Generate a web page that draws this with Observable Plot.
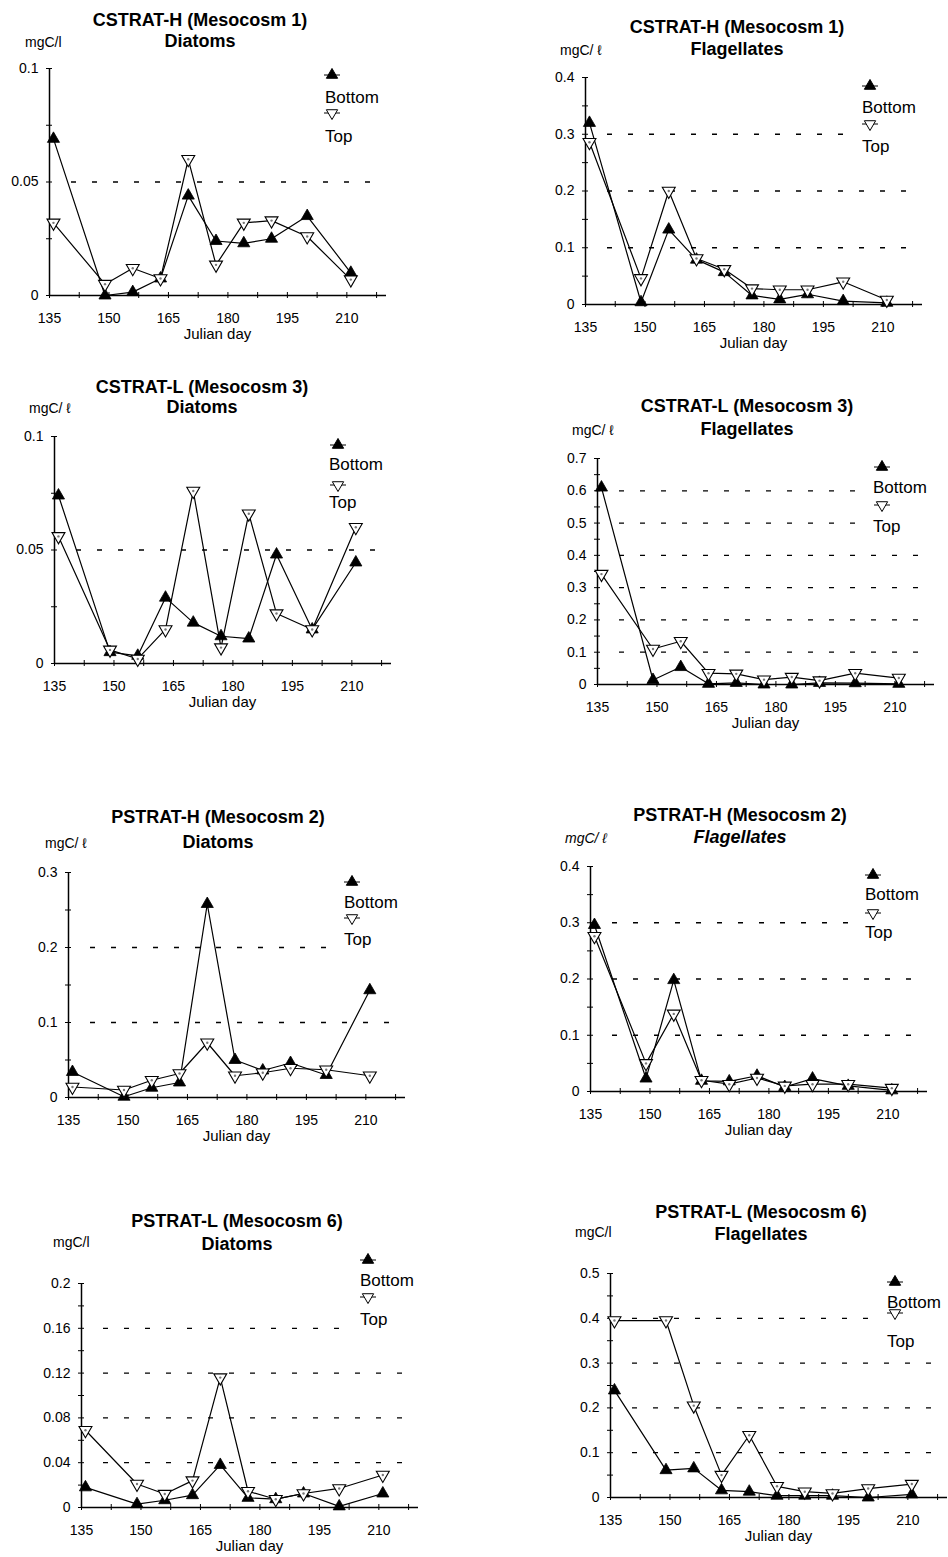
<!DOCTYPE html>
<html>
<head>
<meta charset="utf-8">
<script src="https://cdn.jsdelivr.net/npm/d3@7"></script>
<script src="https://cdn.jsdelivr.net/npm/@observablehq/plot@0.6"></script>
<style>
  body { margin: 0; background: #fff; }
  #page { position: relative; width: 948px; height: 1557px; overflow: hidden; background: #fff; }
  #page svg { position: absolute; left: 0; top: 0; }
</style>
</head>
<body>
<div id="page"></div>
<script>
// Sampling dates (Julian day), shared by every mesocosm
const days = [136, 149, 156, 163, 170, 177, 184, 191, 200, 211];

// x-axis labels and minor tick positions
const xLabels = [135, 150, 165, 180, 195, 210];
const xTicks = [135, 142.5, 150, 157.5, 165, 172.5, 180, 187.5, 195, 202.5, 210, 217.5];

// Carbon biomass, mgC/l — bottom and top layers
const cstratH_diatoms_bottom = [0.069, 0.0, 0.0015, 0.0075, 0.044, 0.024, 0.023, 0.025, 0.035, 0.010];
const cstratH_diatoms_top    = [0.032, 0.005, 0.012, 0.0075, 0.060, 0.0135, 0.032, 0.033, 0.026, 0.007];
const cstratH_flag_bottom    = [0.32, 0.004, 0.132, 0.079, 0.057, 0.016, 0.009, 0.018, 0.006, 0.003];
const cstratH_flag_top       = [0.286, 0.046, 0.20, 0.081, 0.062, 0.028, 0.026, 0.026, 0.040, 0.008];

const cstratL_diatoms_bottom = [0.074, 0.005, 0.0034, 0.029, 0.018, 0.012, 0.011, 0.048, 0.015, 0.0445];
const cstratL_diatoms_top    = [0.056, 0.006, 0.002, 0.015, 0.076, 0.007, 0.066, 0.022, 0.015, 0.060];
const cstratL_flag_bottom    = [0.61, 0.014, 0.054, 0.002, 0.005, 0.0, 0.0, 0.005, 0.004, 0.002];
const cstratL_flag_top       = [0.342, 0.11, 0.134, 0.035, 0.033, 0.015, 0.023, 0.012, 0.035, 0.02];

const pstratH_diatoms_bottom = [0.034, 0.001, 0.013, 0.02, 0.258, 0.050, 0.036, 0.046, 0.030, 0.143];
const pstratH_diatoms_top    = [0.014, 0.010, 0.023, 0.032, 0.073, 0.029, 0.033, 0.039, 0.037, 0.029];
const pstratH_flag_bottom    = [0.296, 0.023, 0.198, 0.019, 0.018, 0.028, 0.008, 0.023, 0.010, 0.002];
const pstratH_flag_top       = [0.276, 0.050, 0.138, 0.020, 0.013, 0.024, 0.010, 0.013, 0.013, 0.006];

const pstratL_diatoms_bottom = [0.018, 0.003, 0.0065, 0.011, 0.038, 0.0086, 0.0074, 0.0125, 0.001, 0.0125];
const pstratL_diatoms_top    = [0.069, 0.021, 0.012, 0.024, 0.116, 0.0145, 0.0074, 0.0125, 0.017, 0.029];
const pstratL_flag_bottom    = [0.239, 0.061, 0.065, 0.016, 0.013, 0.004, 0.004, 0.004, 0.0, 0.007];
const pstratL_flag_top       = [0.395, 0.395, 0.205, 0.05, 0.139, 0.025, 0.013, 0.009, 0.02, 0.03];

// y-axis tick labels for each panel
const yTicks_01 = [0, 0.05, 0.1];
const yTicks_04 = [0, 0.1, 0.2, 0.3, 0.4];
const yTicks_07 = [0, 0.1, 0.2, 0.3, 0.4, 0.5, 0.6, 0.7];
const yTicks_03 = [0, 0.1, 0.2, 0.3];
const yTicks_02 = [0, 0.04, 0.08, 0.12, 0.16, 0.2];
const yTicks_05 = [0, 0.1, 0.2, 0.3, 0.4, 0.5];

const panels = [
  {title: "CSTRAT-H (Mesocosm 1)", group: "Diatoms",     unit: "mgC/l", bottom: cstratH_diatoms_bottom, top: cstratH_diatoms_top, yTicks: yTicks_01},
  {title: "CSTRAT-H (Mesocosm 1)", group: "Flagellates", unit: "mgC/ ℓ", bottom: cstratH_flag_bottom,   top: cstratH_flag_top,    yTicks: yTicks_04},
  {title: "CSTRAT-L (Mesocosm 3)", group: "Diatoms",     unit: "mgC/ ℓ", bottom: cstratL_diatoms_bottom, top: cstratL_diatoms_top, yTicks: yTicks_01},
  {title: "CSTRAT-L (Mesocosm 3)", group: "Flagellates", unit: "mgC/ ℓ", bottom: cstratL_flag_bottom,   top: cstratL_flag_top,    yTicks: yTicks_07},
  {title: "PSTRAT-H (Mesocosm 2)", group: "Diatoms",     unit: "mgC/ ℓ", bottom: pstratH_diatoms_bottom, top: pstratH_diatoms_top, yTicks: yTicks_03},
  {title: "PSTRAT-H (Mesocosm 2)", group: "Flagellates", unit: "mgC/ ℓ", bottom: pstratH_flag_bottom,   top: pstratH_flag_top,    yTicks: yTicks_04, italic: true},
  {title: "PSTRAT-L (Mesocosm 6)", group: "Diatoms",     unit: "mgC/l", bottom: pstratL_diatoms_bottom, top: pstratL_diatoms_top, yTicks: yTicks_02},
  {title: "PSTRAT-L (Mesocosm 6)", group: "Flagellates", unit: "mgC/l", bottom: pstratL_flag_bottom,   top: pstratL_flag_top,    yTicks: yTicks_05}
];

// Page placement of each panel (frame origin, titles, legend), in page pixels
const layout = [
  {x0: 49,  y0: 295,  yTop: 68,   title: [200, 26],   sub: 47,   unit: [25, 47],   legend: {mx: 332, up: 75,   bb: 103,  down: 113,  tb: 142,  tx: 325}},
  {x0: 585, y0: 304,  yTop: 77,   title: [737, 33],   sub: 55,   unit: [560, 55],  legend: {mx: 870, up: 86,   bb: 113,  down: 124,  tb: 152,  tx: 862}},
  {x0: 54,  y0: 663,  yTop: 436,  title: [202, 393],  sub: 413,  unit: [29, 413],  legend: {mx: 338, up: 445,  bb: 470,  down: 485,  tb: 508,  tx: 329}},
  {x0: 597, y0: 684,  yTop: 458,  title: [747, 412],  sub: 435,  unit: [572, 435], legend: {mx: 882, up: 467,  bb: 493,  down: 505,  tb: 532,  tx: 873}},
  {x0: 68,  y0: 1097, yTop: 872,  title: [218, 823],  sub: 848,  unit: [45, 848],  legend: {mx: 352, up: 882,  bb: 908,  down: 918,  tb: 945,  tx: 344}},
  {x0: 590, y0: 1091, yTop: 866,  title: [740, 821],  sub: 843,  unit: [565, 843], legend: {mx: 873, up: 875,  bb: 900,  down: 913,  tb: 938,  tx: 865}},
  {x0: 81,  y0: 1507, yTop: 1283, title: [237, 1227], sub: 1250, unit: [53, 1247], legend: {mx: 368, up: 1260, bb: 1286, down: 1297, tb: 1325, tx: 360}},
  {x0: 610, y0: 1497, yTop: 1273, title: [761, 1218], sub: 1240, unit: [575, 1237], legend: {mx: 895, up: 1282, bb: 1308, down: 1313, tb: 1347, tx: 887}}
];

const W = 948, H = 1557, AXIS_LEN = 337;
const FONT = "'Liberation Sans', Arial, Helvetica, sans-serif";

// Downward-pointing triangle, the mirror of d3.symbolTriangle
const triangleDown = {
  draw(context, size) {
    const y = -Math.sqrt(size / (Math.sqrt(3) * 3));
    context.moveTo(0, -y * 2);
    context.lineTo(Math.sqrt(3) * y, y);
    context.lineTo(-Math.sqrt(3) * y, y);
    context.closePath();
  }
};

const page = document.getElementById("page");

panels.forEach((p, i) => {
  const L = layout[i];
  const bottomRows = days.map((d, j) => ({day: d, v: p.bottom[j]}));
  const topRows = days.map((d, j) => ({day: d, v: p.top[j]}));
  const yMax = p.yTicks[p.yTicks.length - 1];
  const yMinor = d3.pairs(p.yTicks).map(([a, b]) => (a + b) / 2);

  const svg = Plot.plot({
    width: W,
    height: H,
    marginLeft: L.x0,
    marginRight: W - L.x0 - AXIS_LEN,
    marginTop: L.yTop,
    marginBottom: H - L.y0,
    x: {domain: [135, 220], label: null},
    y: {domain: [0, yMax], label: null},
    style: {background: "none", overflow: "visible", maxWidth: "none", fontFamily: FONT, fontSize: "13.5px", color: "#000"},
    marks: [
      // dashed reference lines at the interior ticks
      Plot.gridY(p.yTicks.slice(1, -1), {stroke: "#000", strokeOpacity: 1, strokeWidth: 1.3, strokeDasharray: "5,16", insetLeft: 22, insetRight: 10}),
      // axis lines
      Plot.ruleX([135], {stroke: "#000", strokeWidth: 1.5}),
      Plot.ruleY([0], {stroke: "#000", strokeWidth: 1.5}),
      // tick marks crossing the axes
      Plot.axisY({ticks: [...p.yTicks, ...yMinor], tickSize: 6, dx: 3, tickFormat: () => "", label: null}),
      Plot.axisX({ticks: xTicks, tickSize: 6, dy: -3, tickFormat: () => "", label: null}),
      // tick labels
      Plot.axisY({ticks: p.yTicks, tickSize: 0, tickPadding: 11, tickFormat: d => String(d), label: null, fontSize: 14}),
      Plot.axisX({ticks: xLabels, tickSize: 0, tickPadding: 18, tickFormat: d => String(d), label: null, fontSize: 14}),
      // series
      Plot.line(bottomRows, {x: "day", y: "v", stroke: "#000", strokeWidth: 1.2}),
      Plot.line(topRows, {x: "day", y: "v", stroke: "#000", strokeWidth: 1.2}),
      Plot.dot(bottomRows, {x: "day", y: "v", symbol: "triangle", r: 4.5, fill: "#000", stroke: "#000", strokeWidth: 0.8}),
      Plot.dot(topRows, {x: "day", y: "v", symbol: triangleDown, r: 4.8, fill: "#fff", stroke: "#000", strokeWidth: 1.1}),
      Plot.dot(topRows, {x: "day", y: "v", r: 1.2, fill: "#777", stroke: null})
    ]
  });

  // titles, unit, axis title and legend
  const g = d3.select(svg).append("g")
    .attr("font-family", FONT).attr("fill", "#000").attr("text-anchor", "start");
  g.append("text")
    .attr("x", L.title[0]).attr("y", L.title[1])
    .attr("text-anchor", "middle").attr("font-weight", "bold").attr("font-size", 18)
    .text(p.title);
  g.append("text")
    .attr("x", L.title[0]).attr("y", L.sub)
    .attr("text-anchor", "middle").attr("font-weight", "bold").attr("font-size", 18)
    .attr("font-style", p.italic ? "italic" : null)
    .text(p.group);
  g.append("text")
    .attr("x", L.unit[0]).attr("y", L.unit[1])
    .attr("text-anchor", "start").attr("font-size", 14)
    .attr("font-style", p.italic ? "italic" : null)
    .text(p.unit);
  g.append("text")
    .attr("x", L.x0 + AXIS_LEN / 2).attr("y", L.y0 + 44)
    .attr("text-anchor", "middle").attr("font-size", 15)
    .text("Julian day");

  const lg = L.legend;
  g.append("rect")
    .attr("x", lg.tx - 10).attr("y", lg.up - 8)
    .attr("width", 68).attr("height", lg.tb - lg.up + 12)
    .attr("fill", "#fff");
  [[lg.up, d3.symbolTriangle, "#000", lg.bb, "Bottom"], [lg.down, triangleDown, "#fff", lg.tb, "Top"]]
    .forEach(([my, type, fill, baseline, label]) => {
      g.append("line")
        .attr("x1", lg.mx - 8).attr("x2", lg.mx + 8).attr("y1", my).attr("y2", my)
        .attr("stroke", "#000").attr("stroke-width", 1);
      g.append("path")
        .attr("transform", `translate(${lg.mx},${my})`)
        .attr("d", d3.symbol(type, Math.PI * 4.2 * 4.2)())
        .attr("fill", fill).attr("stroke", "#000").attr("stroke-width", 1);
      g.append("text")
        .attr("x", lg.tx).attr("y", baseline)
        .attr("text-anchor", "start").attr("font-size", 17)
        .text(label);
    });

  page.appendChild(svg);
});
</script>
</body>
</html>
